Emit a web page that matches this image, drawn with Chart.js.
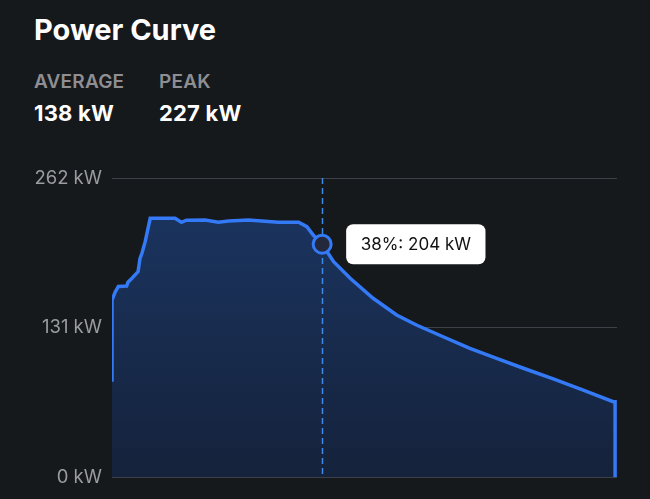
<!DOCTYPE html>
<html>
<head>
<meta charset="utf-8">
<script src="https://cdn.jsdelivr.net/npm/chart.js@4/dist/chart.umd.min.js"></script>
<style>
  html, body { margin: 0; padding: 0; background: #15191c; width: 650px; height: 499px; overflow: hidden; }
  body { position: relative; font-family: Inter, "Noto Sans", sans-serif; }
  .t { position: absolute; white-space: nowrap; }
  #title { left: 34px; top: 15px; font-size: 29px; line-height: 29px; font-weight: 700; color: #ffffff; }
  .lab { font-size: 19px; line-height: 19px; font-weight: 600; color: #8e8e93; top: 72px; letter-spacing: 0.2px; }
  .val { font-size: 22px; line-height: 22px; font-weight: 700; color: #ffffff; top: 102px; letter-spacing: 0.2px; }
  #wrap { position: absolute; left: 0; top: 150px; width: 650px; height: 349px; }
</style>
</head>
<body>
<div class="t" id="title">Power Curve</div>
<div class="t lab" style="left:34px">AVERAGE</div>
<div class="t lab" style="left:159px">PEAK</div>
<div class="t val" style="left:34px">138 kW</div>
<div class="t val" style="left:159px">227 kW</div>
<div id="wrap"><canvas id="c" width="650" height="349"></canvas></div>
<script>
// State of charge (%) and charging power (kW)
const socPct = [5.0, 5.0, 5.5, 6.0, 7.3, 7.5, 8.1, 9.1, 9.4, 9.7, 10.2, 11.0, 14.9, 15.9, 16.7, 19.6, 21.7, 23.3, 26.4, 28.5, 31.1, 34.3, 35.6, 36.6, 38.0, 39.8, 42.4, 46.0, 49.7, 52.8, 57.0, 61.2, 65.4, 69.6, 74.3, 79.0, 83.7, 84.0, 84.0];
const powerKw = [83.5, 155, 162, 167, 167.4, 170.6, 174, 180, 191.6, 196, 206, 226.7, 226.7, 223.2, 225, 225.2, 223.2, 224.3, 225.2, 224.3, 223.2, 223.2, 219.3, 212, 204, 188.7, 174.2, 156.6, 142, 133.2, 122.9, 112.8, 104, 95.3, 85.9, 76.2, 66, 66, 0];
const yTicks = [0, 131, 262];
const highlightPct = 38;

const points = socPct.map((x, i) => ({ x: x, y: powerKw[i] }));
const hi = socPct.indexOf(highlightPct);

const blue = '#3479f6';

const crosshair = {
  id: 'crosshair',
  afterDatasetsDraw(chart) {
    const ctx = chart.ctx;
    const area = chart.chartArea;
    const px = chart.scales.x.getPixelForValue(socPct[hi]);
    const py = chart.scales.y.getPixelForValue(powerKw[hi]);
    ctx.save();
    ctx.strokeStyle = '#3f8ae8';
    ctx.lineWidth = 1.5;
    ctx.setLineDash([6, 4]);
    ctx.beginPath();
    ctx.moveTo(Math.round(px) + 0.5, area.top);
    ctx.lineTo(Math.round(px) + 0.5, area.bottom);
    ctx.stroke();
    ctx.setLineDash([]);
    ctx.beginPath();
    ctx.arc(px, py, 9, 0, Math.PI * 2);
    ctx.fillStyle = '#23283a';
    ctx.fill();
    ctx.lineWidth = 3;
    ctx.strokeStyle = blue;
    ctx.stroke();
    const label = socPct[hi] + '%: ' + Math.round(powerKw[hi]) + ' kW';
    ctx.font = '400 17px Inter, "Noto Sans", sans-serif';
    const tw = ctx.measureText(label).width;
    const bw = tw + 29, bh = 40;
    const bx = px + 24, by = py - bh / 2;
    ctx.fillStyle = '#ffffff';
    ctx.beginPath();
    if (ctx.roundRect) ctx.roundRect(bx, by, bw, bh, 7); else ctx.rect(bx, by, bw, bh);
    ctx.fill();
    ctx.fillStyle = '#111111';
    ctx.textAlign = 'center';
    ctx.textBaseline = 'middle';
    ctx.fillText(label, bx + bw / 2, by + bh / 2 + 1);
    ctx.restore();
  }
};

new Chart(document.getElementById('c'), {
  type: 'line',
  data: {
    datasets: [{
      data: points,
      borderColor: blue,
      borderWidth: 3.5,
      pointRadius: 0,
      tension: 0,
      fill: 'origin',
      backgroundColor: (c) => {
        const a = c.chart.chartArea;
        if (!a) return '#17284a';
        const g = c.chart.ctx.createLinearGradient(0, a.top, 0, a.bottom);
        g.addColorStop(0, '#1b3663');
        g.addColorStop(1, '#15223b');
        return g;
      }
    }]
  },
  options: {
    responsive: false,
    animation: false,
    layout: { padding: { left: 0, right: 33, top: 28, bottom: 22 } },
    plugins: { legend: { display: false }, tooltip: { enabled: false } },
    scales: {
      x: { type: 'linear', min: 5, max: 84.3, display: false },
      y: {
        min: 0, max: 262,
        afterBuildTicks: (axis) => { axis.ticks = yTicks.map(v => ({ value: v })); },
        afterFit: (axis) => { axis.width = 112; },
        border: { display: false },
        grid: { color: '#3e4248', lineWidth: 1, drawTicks: false },
        ticks: {
          color: '#9b9ba0',
          padding: 10,
          font: { family: 'Inter', size: 18.5 },
          callback: (v) => v + ' kW'
        }
      }
    }
  },
  plugins: [crosshair]
});
</script>
</body>
</html>
